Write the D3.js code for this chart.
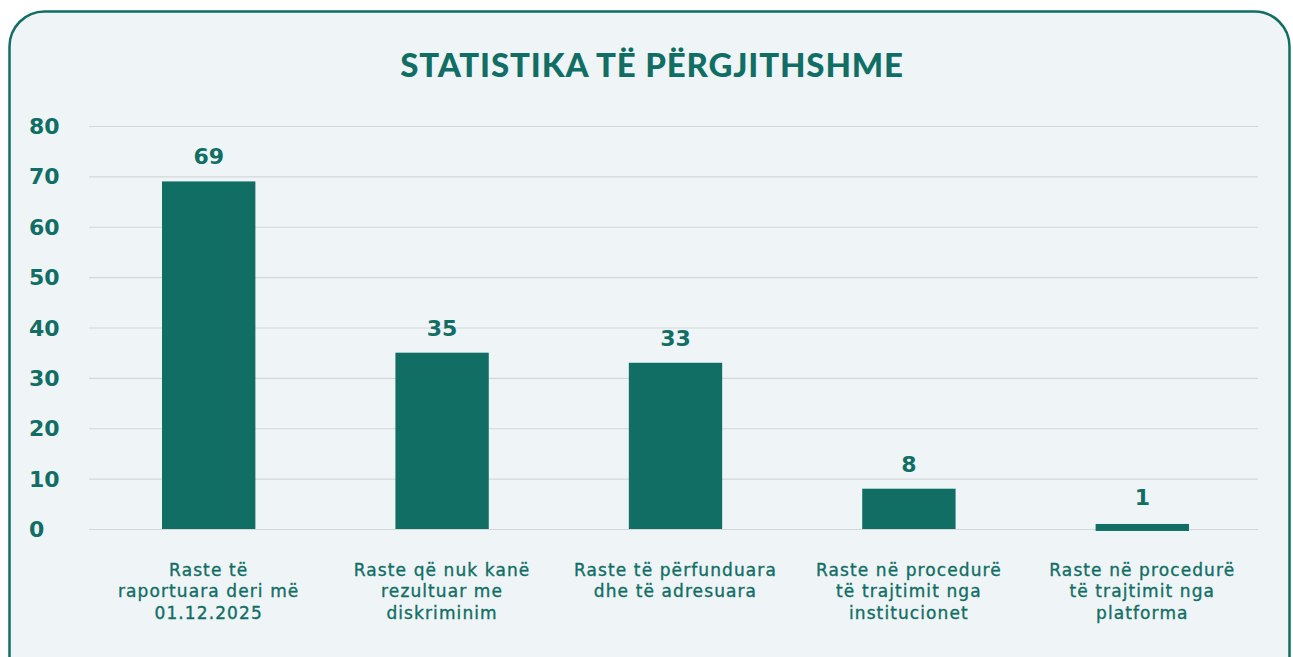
<!DOCTYPE html>
<html>
<head>
<meta charset="utf-8">
<script src="https://cdn.jsdelivr.net/npm/d3@7"></script>
<style>
  html, body { margin: 0; padding: 0; background: #ffffff; }
  svg { display: block; }
</style>
</head>
<body>
<svg id="chart" width="1293" height="657"></svg>
<script>
const categories = [
  ["Raste të", "raportuara deri më", "01.12.2025"],
  ["Raste që nuk kanë", "rezultuar me", "diskriminim"],
  ["Raste të përfunduara", "dhe të adresuara"],
  ["Raste në procedurë", "të trajtimit nga", "institucionet"],
  ["Raste në procedurë", "të trajtimit nga", "platforma"]
];
const values = [69, 35, 33, 8, 1];
const yTicks = [0, 10, 20, 30, 40, 50, 60, 70, 80];
const title = "STATISTIKA TË PËRGJITHSHME";

const teal = "#116e64";
const svg = d3.select("#chart");

// panel
svg.append("rect")
  .attr("x", 9.5).attr("y", 11.5)
  .attr("width", 1280).attr("height", 680)
  .attr("rx", 35).attr("ry", 35)
  .attr("fill", "#eff4f7")
  .attr("stroke", teal).attr("stroke-width", 2.5);

svg.append("text")
  .attr("x", 652).attr("y", 77)
  .attr("text-anchor", "middle")
  .attr("font-family", "Lato")
  .attr("font-weight", 900)
  .attr("font-size", 33)
  .attr("letter-spacing", 0.85)
  .attr("fill", teal)
  .text(title);

const x = d3.scaleBand()
  .domain(d3.range(values.length))
  .range([92, 1259])
  .paddingInner(0.6)
  .paddingOuter(0.3);

const y = d3.scaleLinear().domain([0, 80]).range([529, 126]);

// gridlines
svg.append("g").selectAll("line").data(yTicks).join("line")
  .attr("x1", 89).attr("x2", 1258)
  .attr("y1", d => y(d) + 0.5).attr("y2", d => y(d) + 0.5)
  .attr("stroke", "#d3d7da").attr("stroke-width", 1.2);

// y labels
svg.append("g").selectAll("text").data(yTicks).join("text")
  .attr("x", 29).attr("y", d => y(d) + 8)
  .attr("font-family", "DejaVu Sans").attr("font-weight", 700)
  .attr("font-size", 22).attr("fill", teal)
  .text(d => d);

// bars
svg.append("g").selectAll("rect").data(values).join("rect")
  .attr("x", (d, i) => x(i))
  .attr("width", x.bandwidth())
  .attr("y", d => y(d))
  .attr("height", d => Math.max(y(0) - y(d), 7))
  .attr("fill", teal);

// value labels
svg.append("g").selectAll("text").data(values).join("text")
  .attr("x", (d, i) => x(i) + x.bandwidth() / 2)
  .attr("y", d => Math.min(y(d), y(0) - 7) - 17)
  .attr("text-anchor", "middle")
  .attr("font-family", "DejaVu Sans").attr("font-weight", 700)
  .attr("font-size", 22).attr("fill", teal)
  .text(d => d);

// category labels (one text per line)
const cg = svg.append("g");
categories.forEach((lines, i) => {
  lines.forEach((ln, j) => {
    cg.append("text")
      .attr("x", x(i) + x.bandwidth() / 2)
      .attr("y", 576 + j * 21.3)
      .attr("text-anchor", "middle")
      .attr("font-family", "DejaVu Sans")
      .attr("font-size", 17).attr("letter-spacing", 1.1)
      .attr("fill", teal)
      .attr("stroke", teal).attr("stroke-width", 0.35)
      .text(ln);
  });
});
</script>
</body>
</html>
